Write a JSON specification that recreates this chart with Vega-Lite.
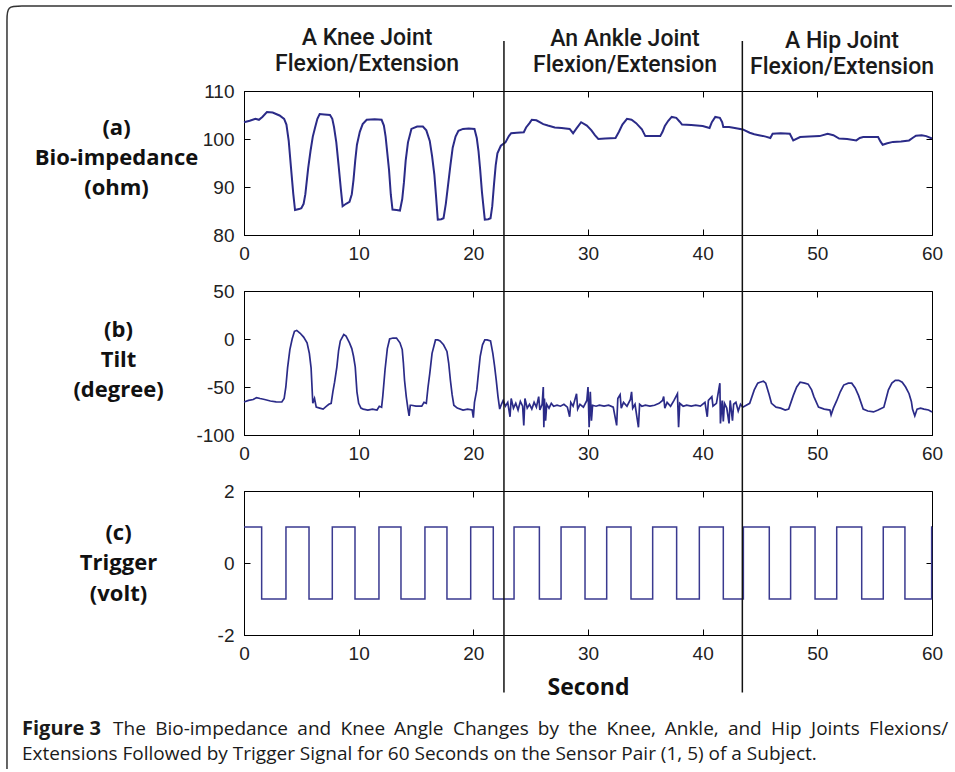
{
  "$schema": "https://vega.github.io/schema/vega-lite/v6.json",
  "background": "white",
  "padding": {"left": 3, "top": 2, "right": 0, "bottom": 0},
  "spacing": 56,
  "bounds": "flush",
  "config": {
    "view": {"stroke": "#000", "strokeWidth": 1},
    "axis": {"labelFont": "Liberation Sans", "labelFontSize": 19, "labelColor": "#222", "tickColor": "#000", "domainColor": "#000", "grid": false, "tickSize": -6, "labelPadding": 15, "labelFlush": false, "titleColor": "#111", "labelExpr": "datum.value < 0 ? '-' + abs(datum.value) : '' + datum.value"},
    "axisLeft": {"labelPadding": 16}
  },
  "datasets": {
    "bio": [{"t":0,"v":103.5},{"t":0.5,"v":103.8},{"t":1.0,"v":104.2},{"t":1.3,"v":104.0},{"t":1.6,"v":104.6},{"t":2.0,"v":105.6},{"t":2.5,"v":105.5},{"t":3.1,"v":104.9},{"t":3.5,"v":104.2},{"t":3.7,"v":103.0},{"t":3.9,"v":99.6},{"t":4.1,"v":94},{"t":4.3,"v":88.5},{"t":4.45,"v":85.2},{"t":4.8,"v":85.4},{"t":5.0,"v":85.6},{"t":5.2,"v":86.5},{"t":5.35,"v":88.5},{"t":5.6,"v":94},{"t":5.8,"v":97.5},{"t":6.0,"v":100.5},{"t":6.2,"v":102.4},{"t":6.4,"v":104.2},{"t":6.6,"v":105.2},{"t":7.0,"v":105.1},{"t":7.5,"v":105.0},{"t":7.7,"v":104.2},{"t":7.85,"v":102.5},{"t":8.05,"v":99.3},{"t":8.25,"v":94.5},{"t":8.45,"v":89.5},{"t":8.6,"v":86.0},{"t":8.9,"v":86.5},{"t":9.2,"v":86.9},{"t":9.4,"v":88.5},{"t":9.55,"v":91.5},{"t":9.7,"v":95.5},{"t":9.85,"v":98.8},{"t":10.1,"v":101.5},{"t":10.35,"v":103.1},{"t":10.7,"v":104.0},{"t":11.4,"v":104.1},{"t":12.0,"v":104.0},{"t":12.2,"v":102.8},{"t":12.35,"v":100.5},{"t":12.5,"v":97},{"t":12.65,"v":93.5},{"t":12.8,"v":88.5},{"t":12.95,"v":85.3},{"t":13.3,"v":85.2},{"t":13.6,"v":85.1},{"t":13.8,"v":87.5},{"t":13.95,"v":91},{"t":14.1,"v":95.5},{"t":14.3,"v":99.3},{"t":14.6,"v":102.1},{"t":15.1,"v":102.6},{"t":15.6,"v":102.6},{"t":15.9,"v":101.8},{"t":16.2,"v":99.6},{"t":16.4,"v":96.5},{"t":16.6,"v":92.6},{"t":16.75,"v":88},{"t":16.9,"v":83.2},{"t":17.2,"v":83.3},{"t":17.4,"v":83.5},{"t":17.6,"v":86.5},{"t":17.8,"v":90.5},{"t":18.0,"v":94.5},{"t":18.2,"v":98.2},{"t":18.45,"v":100.5},{"t":18.7,"v":101.7},{"t":19.1,"v":102.1},{"t":19.6,"v":102.2},{"t":20.1,"v":102.1},{"t":20.3,"v":100.2},{"t":20.45,"v":97.5},{"t":20.6,"v":93.5},{"t":20.75,"v":89},{"t":20.9,"v":85.5},{"t":21.0,"v":83.2},{"t":21.3,"v":83.3},{"t":21.5,"v":83.5},{"t":21.65,"v":86},{"t":21.8,"v":90.5},{"t":21.95,"v":94.5},{"t":22.1,"v":97.0},{"t":22.4,"v":98.6},{"t":22.8,"v":99.3},{"t":23.1,"v":100.6},{"t":23.3,"v":101.2},{"t":23.8,"v":101.3},{"t":24.4,"v":101.4},{"t":24.6,"v":102.4},{"t":24.9,"v":103.3},{"t":25.1,"v":104.0},{"t":25.5,"v":103.9},{"t":26.1,"v":103.1},{"t":26.5,"v":102.8},{"t":27.1,"v":102.4},{"t":27.7,"v":102.3},{"t":28.4,"v":102.1},{"t":28.7,"v":101.2},{"t":29.0,"v":102.2},{"t":29.4,"v":103.5},{"t":29.9,"v":102.8},{"t":30.3,"v":101.8},{"t":30.6,"v":100.8},{"t":30.9,"v":100.0},{"t":31.5,"v":100.1},{"t":32.4,"v":100.2},{"t":32.7,"v":101.5},{"t":33.0,"v":103.0},{"t":33.4,"v":104.2},{"t":33.8,"v":104.0},{"t":34.2,"v":103.3},{"t":34.7,"v":102.0},{"t":35.0,"v":100.6},{"t":35.6,"v":100.6},{"t":36.3,"v":100.6},{"t":36.5,"v":101.5},{"t":36.7,"v":102.7},{"t":37.0,"v":103.8},{"t":37.3,"v":104.6},{"t":37.7,"v":104.4},{"t":38.0,"v":103.6},{"t":38.2,"v":103.0},{"t":39.0,"v":102.9},{"t":40.0,"v":102.7},{"t":40.6,"v":102.3},{"t":40.8,"v":103.5},{"t":41.1,"v":104.6},{"t":41.5,"v":104.4},{"t":41.7,"v":103.5},{"t":41.8,"v":102.5},{"t":42.3,"v":102.5},{"t":42.8,"v":102.3},{"t":43.5,"v":102.0},{"t":44.1,"v":101.3},{"t":44.5,"v":101.0},{"t":44.9,"v":100.8},{"t":45.5,"v":100.5},{"t":45.9,"v":100.2},{"t":46.1,"v":101.1},{"t":46.8,"v":101.2},{"t":47.6,"v":101.1},{"t":47.9,"v":99.7},{"t":48.5,"v":100.4},{"t":49.3,"v":100.5},{"t":50.2,"v":100.6},{"t":50.9,"v":101.1},{"t":51.4,"v":100.8},{"t":51.9,"v":100.1},{"t":52.6,"v":100.0},{"t":53.4,"v":99.7},{"t":53.7,"v":100.2},{"t":54.0,"v":100.4},{"t":54.7,"v":100.4},{"t":55.3,"v":100.4},{"t":55.5,"v":99.5},{"t":55.7,"v":98.8},{"t":56.1,"v":99.1},{"t":56.6,"v":99.4},{"t":57.3,"v":99.5},{"t":58.0,"v":99.7},{"t":58.3,"v":100.2},{"t":58.6,"v":100.7},{"t":59.1,"v":100.8},{"t":59.5,"v":100.6},{"t":60,"v":100.1}],
    "tilt": [{"t":0,"v":-65.6},{"t":0.4,"v":-64},{"t":0.8,"v":-63},{"t":1.1,"v":-61},{"t":1.4,"v":-62},{"t":1.8,"v":-63},{"t":2.3,"v":-64.6},{"t":2.8,"v":-65.5},{"t":3.3,"v":-65.6},{"t":3.5,"v":-62},{"t":3.65,"v":-50},{"t":3.8,"v":-30},{"t":4.0,"v":-11},{"t":4.2,"v":0},{"t":4.4,"v":8},{"t":4.6,"v":9},{"t":4.9,"v":6},{"t":5.2,"v":2},{"t":5.5,"v":-4},{"t":5.7,"v":-15},{"t":5.85,"v":-30},{"t":6.0,"v":-67},{"t":6.15,"v":-62},{"t":6.3,"v":-71},{"t":6.6,"v":-72},{"t":6.9,"v":-73},{"t":7.2,"v":-70},{"t":7.4,"v":-68},{"t":7.6,"v":-67},{"t":7.75,"v":-55},{"t":7.9,"v":-45},{"t":8.1,"v":-29},{"t":8.25,"v":-12},{"t":8.4,"v":-2},{"t":8.7,"v":4.6},{"t":8.9,"v":3},{"t":9.2,"v":-4},{"t":9.4,"v":-10},{"t":9.55,"v":-18},{"t":9.7,"v":-29},{"t":9.85,"v":-55},{"t":10.0,"v":-67},{"t":10.2,"v":-72},{"t":10.4,"v":-73},{"t":10.8,"v":-74},{"t":11.2,"v":-73},{"t":11.6,"v":-74},{"t":11.8,"v":-70},{"t":12.0,"v":-71},{"t":12.1,"v":-60},{"t":12.3,"v":-32},{"t":12.5,"v":-10},{"t":12.7,"v":0},{"t":13.0,"v":1},{"t":13.3,"v":1},{"t":13.6,"v":-4},{"t":13.8,"v":-11},{"t":13.9,"v":-25},{"t":14.0,"v":-43},{"t":14.15,"v":-60},{"t":14.3,"v":-73},{"t":14.4,"v":-80},{"t":14.5,"v":-69},{"t":14.6,"v":-69},{"t":15.0,"v":-70},{"t":15.5,"v":-70},{"t":15.7,"v":-66},{"t":15.9,"v":-67},{"t":16.05,"v":-50},{"t":16.2,"v":-36},{"t":16.4,"v":-15},{"t":16.7,"v":-1},{"t":16.9,"v":-1},{"t":17.1,"v":-2},{"t":17.4,"v":-6},{"t":17.7,"v":-13},{"t":17.85,"v":-25},{"t":18.0,"v":-43},{"t":18.15,"v":-58},{"t":18.3,"v":-69},{"t":18.6,"v":-72},{"t":19.1,"v":-74},{"t":19.5,"v":-73},{"t":19.9,"v":-74},{"t":20.0,"v":-82},{"t":20.1,"v":-66},{"t":20.3,"v":-53},{"t":20.45,"v":-35},{"t":20.6,"v":-18},{"t":20.8,"v":-6},{"t":21.0,"v":-1},{"t":21.2,"v":-1},{"t":21.5,"v":-2},{"t":21.7,"v":-15},{"t":21.85,"v":-28},{"t":22.0,"v":-43},{"t":22.15,"v":-60},{"t":22.3,"v":-73},{"t":22.45,"v":-68},{"t":22.6,"v":-64},{"t":22.8,"v":-70},{"t":23.0,"v":-66},{"t":23.2,"v":-81},{"t":23.3,"v":-62},{"t":23.5,"v":-72},{"t":23.7,"v":-67},{"t":23.9,"v":-74},{"t":24.1,"v":-65},{"t":24.3,"v":-70},{"t":24.4,"v":-90},{"t":24.5,"v":-62},{"t":24.7,"v":-72},{"t":24.9,"v":-68},{"t":25.1,"v":-73},{"t":25.3,"v":-66},{"t":25.5,"v":-71},{"t":25.7,"v":-60},{"t":25.8,"v":-74},{"t":26.0,"v":-68},{"t":26.1,"v":-50},{"t":26.15,"v":-92},{"t":26.2,"v":-62},{"t":26.3,"v":-85},{"t":26.4,"v":-68},{"t":26.6,"v":-72},{"t":26.8,"v":-67},{"t":27.0,"v":-70},{"t":27.3,"v":-69},{"t":27.6,"v":-70},{"t":27.9,"v":-68},{"t":28.2,"v":-71},{"t":28.4,"v":-81},{"t":28.5,"v":-66},{"t":28.7,"v":-70},{"t":29.0,"v":-57},{"t":29.1,"v":-73},{"t":29.3,"v":-68},{"t":29.6,"v":-71},{"t":29.9,"v":-64},{"t":30.0,"v":-50},{"t":30.1,"v":-92},{"t":30.2,"v":-55},{"t":30.3,"v":-85},{"t":30.4,"v":-69},{"t":30.7,"v":-70},{"t":31.0,"v":-69},{"t":31.4,"v":-70},{"t":31.8,"v":-69},{"t":32.2,"v":-71},{"t":32.5,"v":-90},{"t":32.6,"v":-62},{"t":32.8,"v":-58},{"t":32.9,"v":-72},{"t":33.1,"v":-66},{"t":33.4,"v":-70},{"t":33.7,"v":-63},{"t":33.8,"v":-55},{"t":33.9,"v":-72},{"t":34.1,"v":-68},{"t":34.4,"v":-92},{"t":34.5,"v":-68},{"t":34.7,"v":-70},{"t":35.0,"v":-69},{"t":35.4,"v":-70},{"t":35.8,"v":-69},{"t":36.2,"v":-67},{"t":36.5,"v":-64},{"t":36.6,"v":-60},{"t":36.7,"v":-72},{"t":36.9,"v":-66},{"t":37.2,"v":-70},{"t":37.5,"v":-64},{"t":37.8,"v":-57},{"t":37.9,"v":-92},{"t":38.0,"v":-67},{"t":38.3,"v":-70},{"t":38.6,"v":-69},{"t":39.0,"v":-70},{"t":39.4,"v":-69},{"t":39.8,"v":-70},{"t":40.2,"v":-66},{"t":40.4,"v":-81},{"t":40.5,"v":-64},{"t":40.8,"v":-60},{"t":40.9,"v":-70},{"t":41.2,"v":-67},{"t":41.5,"v":-46},{"t":41.55,"v":-88},{"t":41.7,"v":-64},{"t":41.8,"v":-86},{"t":41.9,"v":-67},{"t":42.1,"v":-72},{"t":42.3,"v":-88},{"t":42.4,"v":-64},{"t":42.6,"v":-85},{"t":42.7,"v":-68},{"t":42.9,"v":-66},{"t":43.1,"v":-75},{"t":43.3,"v":-68},{"t":43.5,"v":-71},{"t":44.1,"v":-67},{"t":44.5,"v":-53},{"t":44.8,"v":-46},{"t":45.0,"v":-45},{"t":45.3,"v":-44},{"t":45.5,"v":-46},{"t":45.8,"v":-58},{"t":46.0,"v":-67},{"t":46.4,"v":-71},{"t":46.8,"v":-72},{"t":47.2,"v":-74},{"t":47.5,"v":-73},{"t":47.7,"v":-66},{"t":47.9,"v":-59},{"t":48.2,"v":-50},{"t":48.5,"v":-45},{"t":48.9,"v":-46},{"t":49.2,"v":-47},{"t":49.5,"v":-53},{"t":49.7,"v":-60},{"t":50.1,"v":-71},{"t":50.6,"v":-73},{"t":51.1,"v":-74},{"t":51.2,"v":-79},{"t":51.4,"v":-72},{"t":51.7,"v":-64},{"t":52.0,"v":-55},{"t":52.3,"v":-48},{"t":52.7,"v":-46},{"t":53.0,"v":-46},{"t":53.3,"v":-51},{"t":53.6,"v":-59},{"t":54.0,"v":-73},{"t":54.4,"v":-75},{"t":54.9,"v":-76},{"t":55.3,"v":-74},{"t":55.8,"v":-71},{"t":56.0,"v":-62},{"t":56.2,"v":-53},{"t":56.5,"v":-46},{"t":56.8,"v":-43},{"t":57.1,"v":-43},{"t":57.4,"v":-45},{"t":57.7,"v":-50},{"t":58.0,"v":-57},{"t":58.2,"v":-65},{"t":58.3,"v":-73},{"t":58.5,"v":-80},{"t":58.7,"v":-73},{"t":59.0,"v":-72},{"t":59.3,"v":-73},{"t":59.7,"v":-74},{"t":60,"v":-76}],
    "trig": [{"t":0,"v":1},{"t":1.54,"v":-1},{"t":3.66,"v":1},{"t":5.67,"v":-1},{"t":7.70,"v":1},{"t":9.68,"v":-1},{"t":11.77,"v":1},{"t":13.69,"v":-1},{"t":15.78,"v":1},{"t":17.70,"v":-1},{"t":19.77,"v":1},{"t":21.74,"v":-1},{"t":23.55,"v":1},{"t":25.76,"v":-1},{"t":27.65,"v":1},{"t":29.74,"v":-1},{"t":31.63,"v":1},{"t":33.75,"v":-1},{"t":35.64,"v":1},{"t":37.73,"v":-1},{"t":39.71,"v":1},{"t":41.80,"v":-1},{"t":43.55,"v":1},{"t":45.81,"v":-1},{"t":47.67,"v":1},{"t":49.80,"v":-1},{"t":51.69,"v":1},{"t":53.87,"v":-1},{"t":55.75,"v":1},{"t":57.64,"v":-1},{"t":59.97,"v":1},{"t":60,"v":1}],
    "phases": [{"t":22.67},{"t":43.46}],
    "notes": [{"t":10.73,"v":119.63,"label":"A Knee Joint"},{"t":10.73,"v":114.21,"label":"Flexion/Extension"},{"t":33.23,"v":119.4,"label":"An Ankle Joint"},{"t":33.23,"v":113.99,"label":"Flexion/Extension"},{"t":52.15,"v":118.9,"label":"A Hip Joint"},{"t":52.15,"v":113.48,"label":"Flexion/Extension"}],
    "capBold": [{"t":-19.36,"v":-4.78,"label":"Figure 3"}],
    "capText": [{"t":-11.42,"v":-4.78,"label":"The"},{"t":-7.75,"v":-4.78,"label":"Bio-impedance"},{"t":4.65,"v":-4.78,"label":"and"},{"t":8.42,"v":-4.78,"label":"Knee"},{"t":13.08,"v":-4.78,"label":"Angle"},{"t":18.22,"v":-4.78,"label":"Changes"},{"t":25.62,"v":-4.78,"label":"by"},{"t":28.27,"v":-4.78,"label":"the"},{"t":31.61,"v":-4.78,"label":"Knee,"},{"t":36.69,"v":-4.78,"label":"Ankle,"},{"t":42.2,"v":-4.78,"label":"and"},{"t":45.97,"v":-4.78,"label":"Hip"},{"t":49.45,"v":-4.78,"label":"Joints"},{"t":54.51,"v":-4.78,"label":"Flexions/"},{"t":-19.36,"v":-5.47,"label":"Extensions Followed by Trigger Signal for 60 Seconds on the Sensor Pair (1, 5) of a Subject."}],
    "frame": [{"i":0,"t":-20.67,"v":-5.72},{"i":1,"t":-20.67,"v":14.56},{"i":2,"t":-20.67,"v":15.11},{"i":3,"t":-20.67,"v":15.47},{"i":4,"t":-19.45,"v":15.47},{"i":5,"t":-17.7,"v":15.47},{"i":6,"t":61.74,"v":15.47}]
  },
  "vconcat": [
    {
      "width": 688, "height": 144,
      "layer": [
        {"data": {"name": "bio"}, "mark": {"type": "line", "color": "#2b2b88", "strokeWidth": 2},
         "encoding": {
           "x": {"field": "t", "type": "quantitative", "scale": {"domain": [0, 60], "nice": false, "zero": false}, "axis": {"orient": "bottom", "values": [0,10,20,30,40,50,60], "title": null}},
           "y": {"field": "v", "type": "quantitative", "scale": {"domain": [80, 110], "nice": false, "zero": false}, "axis": {"orient": "left", "values": [80,90,100,110], "title": ["(a)", "Bio-impedance", "(ohm)"], "titleFont": "Open Sans", "titleFontWeight": "bold", "titleFontSize": 22, "titleAngle": 0, "titleAlign": "center", "titleBaseline": "middle", "titleLineHeight": 30, "titleX": -128, "titleY": 36}}}},
        {"data": {"name": "bio"}, "mark": {"type": "line", "strokeOpacity": 0},
         "encoding": {
           "x": {"field": "t", "type": "quantitative", "axis": {"orient": "top", "values": [0,10,20,30,40,50,60], "labels": false, "domain": false, "title": null}},
           "y": {"field": "v", "type": "quantitative", "axis": {"orient": "right", "values": [80,90,100,110], "labels": false, "domain": false, "title": null}}}},
        {"data": {"name": "notes"}, "mark": {"type": "text", "font": "Roboto", "fontSize": 23, "fontWeight": 500, "align": "center", "baseline": "alphabetic", "color": "#1a1a1a"},
         "encoding": {
           "x": {"field": "t", "type": "quantitative", "axis": null},
           "y": {"field": "v", "type": "quantitative", "axis": null},
           "text": {"field": "label"}}}
      ],
      "resolve": {"axis": {"x": "independent", "y": "independent"}}
    },
    {
      "width": 688, "height": 144,
      "layer": [
        {"data": {"name": "tilt"}, "mark": {"type": "line", "color": "#2b2b88", "strokeWidth": 1.7},
         "encoding": {
           "x": {"field": "t", "type": "quantitative", "scale": {"domain": [0, 60], "nice": false, "zero": false}, "axis": {"orient": "bottom", "values": [0,10,20,30,40,50,60], "title": null}},
           "y": {"field": "v", "type": "quantitative", "scale": {"domain": [-100, 50], "nice": false, "zero": false}, "axis": {"orient": "left", "values": [-100,-50,0,50], "title": ["(b)", "Tilt", "(degree)"], "titleFont": "Open Sans", "titleFontWeight": "bold", "titleFontSize": 22, "titleAngle": 0, "titleAlign": "center", "titleBaseline": "middle", "titleLineHeight": 30, "titleX": -126, "titleY": 38}}}},
        {"data": {"name": "tilt"}, "mark": {"type": "line", "strokeOpacity": 0},
         "encoding": {
           "x": {"field": "t", "type": "quantitative", "axis": {"orient": "top", "values": [0,10,20,30,40,50,60], "labels": false, "domain": false, "title": null}},
           "y": {"field": "v", "type": "quantitative", "axis": {"orient": "right", "values": [-100,-50,0,50], "labels": false, "domain": false, "title": null}}}}
      ],
      "resolve": {"axis": {"x": "independent", "y": "independent"}}
    },
    {
      "width": 688, "height": 144,
      "layer": [
        {"data": {"name": "frame"}, "mark": {"type": "line", "color": "#333", "strokeWidth": 1.5, "interpolate": "basis"},
         "encoding": {
           "x": {"field": "t", "type": "quantitative", "scale": {"domain": [0, 60], "nice": false, "zero": false}, "axis": null},
           "y": {"field": "v", "type": "quantitative", "scale": {"domain": [-2, 2], "nice": false, "zero": false}, "axis": null},
           "order": {"field": "i", "type": "quantitative"}}},
        {"data": {"name": "trig"}, "mark": {"type": "line", "color": "#3a3a90", "strokeWidth": 1.5, "interpolate": "step-after"},
         "encoding": {
           "x": {"field": "t", "type": "quantitative", "axis": {"orient": "bottom", "values": [0,10,20,30,40,50,60], "title": "Second", "titleFont": "Open Sans", "titleFontWeight": "bold", "titleFontSize": 23, "titleBaseline": "alphabetic", "titleY": 59}},
           "y": {"field": "v", "type": "quantitative", "axis": {"orient": "left", "values": [-2,0,2], "title": ["(c)", "Trigger", "(volt)"], "titleFont": "Open Sans", "titleFontWeight": "bold", "titleFontSize": 22, "titleAngle": 0, "titleAlign": "center", "titleBaseline": "middle", "titleLineHeight": 30.5, "titleX": -126, "titleY": 41}}}},
        {"data": {"name": "trig"}, "mark": {"type": "line", "strokeOpacity": 0},
         "encoding": {
           "x": {"field": "t", "type": "quantitative", "axis": {"orient": "top", "values": [0,10,20,30,40,50,60], "labels": false, "domain": false, "title": null}},
           "y": {"field": "v", "type": "quantitative", "axis": {"orient": "right", "values": [-2,0,2], "labels": false, "domain": false, "title": null}}}},
        {"data": {"name": "phases"}, "mark": {"type": "rule", "color": "#111", "strokeWidth": 1.5},
         "encoding": {
           "x": {"field": "t", "type": "quantitative", "axis": null},
           "y": {"datum": -3.6, "type": "quantitative", "axis": null},
           "y2": {"datum": 14.5}}},
        {"data": {"name": "capBold"}, "mark": {"type": "text", "font": "Open Sans", "fontSize": 20, "fontWeight": "bold", "align": "left", "baseline": "alphabetic", "color": "#1a1a1a"},
         "encoding": {
           "x": {"field": "t", "type": "quantitative", "axis": null},
           "y": {"field": "v", "type": "quantitative", "axis": null},
           "text": {"field": "label"}}},
        {"data": {"name": "capText"}, "mark": {"type": "text", "font": "Open Sans", "fontSize": 19, "align": "left", "baseline": "alphabetic", "color": "#1a1a1a"},
         "encoding": {
           "x": {"field": "t", "type": "quantitative", "axis": null},
           "y": {"field": "v", "type": "quantitative", "axis": null},
           "text": {"field": "label"}}}
      ],
      "resolve": {"axis": {"x": "independent", "y": "independent"}}
    }
  ]
}
